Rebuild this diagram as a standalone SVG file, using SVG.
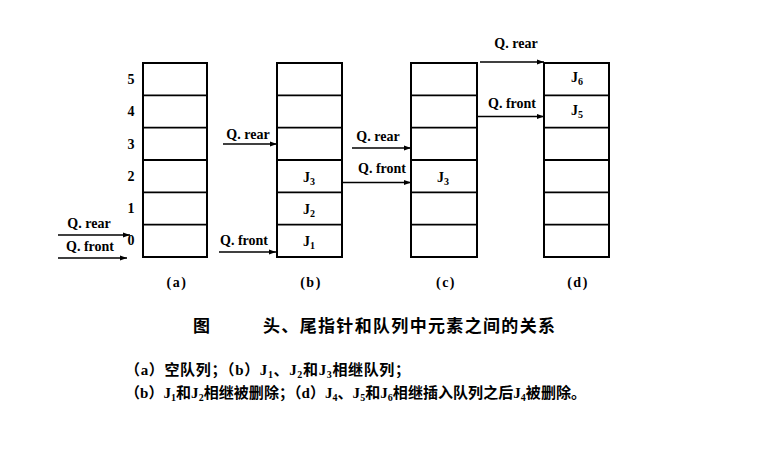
<svg xmlns="http://www.w3.org/2000/svg" width="763" height="464" viewBox="0 0 763 464">
<style>
.box{fill:none;stroke:#000;stroke-width:2}
.row{stroke:#000;stroke-width:1.8}
.ar{stroke:#000;stroke-width:1.4;fill:none;marker-end:url(#ah)}
.lb{font-family:"Liberation Serif",serif;font-weight:bold;font-size:14px;fill:#000;text-anchor:middle}
.idx{font-family:"Liberation Serif",serif;font-weight:bold;font-size:14px;fill:#000;text-anchor:middle}
.cap{font-family:"Liberation Serif",serif;font-weight:bold;font-size:14px;fill:#000;text-anchor:middle;letter-spacing:1.5px}
.cn{font-family:"Liberation Serif","Noto Sans CJK SC",serif;font-weight:bold;fill:#000}
</style>
<defs>
<marker id="ah" markerWidth="8" markerHeight="6" refX="7" refY="3" orient="auto" markerUnits="userSpaceOnUse">
<path d="M0,0.5 L7,3 L0,5.5 Z" fill="#000"/>
</marker>
</defs>
<rect width="763" height="464" fill="#fff"/>

<g id="queue-a">
<rect class="box" x="143" y="63" width="64" height="194"/>
<line class="row" x1="143" y1="95.3" x2="207" y2="95.3"/>
<line class="row" x1="143" y1="127.7" x2="207" y2="127.7"/>
<line class="row" x1="143" y1="160" x2="207" y2="160"/>
<line class="row" x1="143" y1="192.3" x2="207" y2="192.3"/>
<line class="row" x1="143" y1="224.7" x2="207" y2="224.7"/>
<text class="idx" x="131" y="84">5</text>
<text class="idx" x="131" y="116">4</text>
<text class="idx" x="131" y="149">3</text>
<text class="idx" x="131" y="181">2</text>
<text class="idx" x="131" y="213">1</text>
<text class="idx" x="131" y="245">0</text>
<text class="cap" x="177" y="287">(a)</text>
</g>

<g id="queue-b">
<rect class="box" x="277" y="63" width="65" height="194"/>
<line class="row" x1="277" y1="95.3" x2="342" y2="95.3"/>
<line class="row" x1="277" y1="127.7" x2="342" y2="127.7"/>
<line class="row" x1="277" y1="160" x2="342" y2="160"/>
<line class="row" x1="277" y1="192.3" x2="342" y2="192.3"/>
<line class="row" x1="277" y1="224.7" x2="342" y2="224.7"/>
<text class="lb" x="309" y="182">J<tspan font-size="10" dy="3">3</tspan></text>
<text class="lb" x="309" y="214">J<tspan font-size="10" dy="3">2</tspan></text>
<text class="lb" x="309" y="246">J<tspan font-size="10" dy="3">1</tspan></text>
<text class="cap" x="311" y="287">(b)</text>
</g>

<g id="queue-c">
<rect class="box" x="411" y="63" width="66" height="194"/>
<line class="row" x1="411" y1="95.3" x2="477" y2="95.3"/>
<line class="row" x1="411" y1="127.7" x2="477" y2="127.7"/>
<line class="row" x1="411" y1="160" x2="477" y2="160"/>
<line class="row" x1="411" y1="192.3" x2="477" y2="192.3"/>
<line class="row" x1="411" y1="224.7" x2="477" y2="224.7"/>
<text class="lb" x="443" y="182">J<tspan font-size="10" dy="3">3</tspan></text>
<text class="cap" x="446" y="287">(c)</text>
</g>

<g id="queue-d">
<rect class="box" x="544" y="63" width="65" height="194"/>
<line class="row" x1="544" y1="95.3" x2="609" y2="95.3"/>
<line class="row" x1="544" y1="127.7" x2="609" y2="127.7"/>
<line class="row" x1="544" y1="160" x2="609" y2="160"/>
<line class="row" x1="544" y1="192.3" x2="609" y2="192.3"/>
<line class="row" x1="544" y1="224.7" x2="609" y2="224.7"/>
<text class="lb" x="577" y="82">J<tspan font-size="10" dy="3">6</tspan></text>
<text class="lb" x="577" y="115">J<tspan font-size="10" dy="3">5</tspan></text>
<text class="cap" x="578" y="287">(d)</text>
</g>

<g id="connectors">
<line class="ar" x1="58" y1="235" x2="130" y2="235"/>
<line class="ar" x1="58" y1="258" x2="127" y2="258"/>
<line class="ar" x1="223" y1="144" x2="277" y2="144"/>
<line class="ar" x1="219" y1="252" x2="276" y2="252"/>
<line class="ar" x1="352" y1="148" x2="411" y2="148"/>
<line class="ar" x1="342" y1="182.5" x2="411" y2="182.5"/>
<line class="ar" x1="480" y1="62" x2="544" y2="62"/>
<line class="ar" x1="477" y1="116.5" x2="544" y2="116.5"/>
<text class="lb" x="89" y="228">Q. rear</text>
<text class="lb" x="90" y="251">Q. front</text>
<text class="lb" x="248" y="139">Q. rear</text>
<text class="lb" x="244" y="245">Q. front</text>
<text class="lb" x="378" y="141">Q. rear</text>
<text class="lb" x="382" y="173">Q. front</text>
<text class="lb" x="516" y="48">Q. rear</text>
<text class="lb" x="512" y="108">Q. front</text>
</g>

<g id="caption">
<text class="cn" x="193" y="332" font-size="17">图</text>
<text class="cn" x="263" y="332" font-size="17" textLength="292" lengthAdjust="spacing">头、尾指针和队列中元素之间的关系</text>
<text class="cn" x="125" y="375" font-size="15" textLength="285" lengthAdjust="spacing">（a）空队列；（b）J<tspan font-size="10" dy="3">1</tspan><tspan dy="-3">、J</tspan><tspan font-size="10" dy="3">2</tspan><tspan dy="-3">和J</tspan><tspan font-size="10" dy="3">3</tspan><tspan dy="-3">相继队列；</tspan></text>
<text class="cn" x="125" y="398" font-size="15" textLength="461" lengthAdjust="spacing">（b）J<tspan font-size="10" dy="3">1</tspan><tspan dy="-3">和J</tspan><tspan font-size="10" dy="3">2</tspan><tspan dy="-3">相继被删除；（d）J</tspan><tspan font-size="10" dy="3">4</tspan><tspan dy="-3">、J</tspan><tspan font-size="10" dy="3">5</tspan><tspan dy="-3">和J</tspan><tspan font-size="10" dy="3">6</tspan><tspan dy="-3">相继插入队列之后J</tspan><tspan font-size="10" dy="3">4</tspan><tspan dy="-3">被删除。</tspan></text>
</g>
</svg>
